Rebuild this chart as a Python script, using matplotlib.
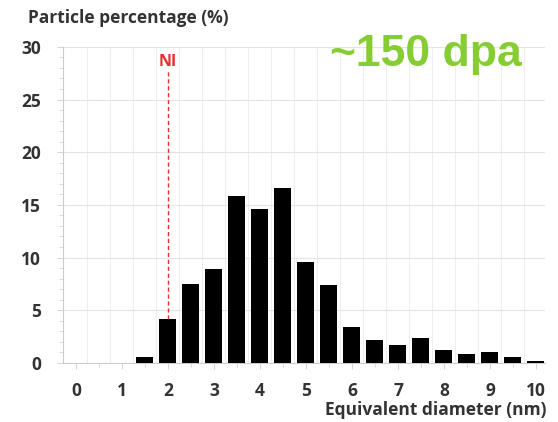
import matplotlib
matplotlib.use('Agg')
import matplotlib.pyplot as plt
import numpy as np

# equivalent diameter bins (nm) and particle percentage (%)
diameters = [1.5, 2.0, 2.5, 3.0, 3.5, 4.0, 4.5, 5.0, 5.5, 6.0,
             6.5, 7.0, 7.5, 8.0, 8.5, 9.0, 9.5, 10.0]
percent = [0.6, 4.2, 7.5, 8.9, 15.8, 14.6, 16.6, 9.6, 7.4, 3.4,
           2.2, 1.7, 2.4, 1.2, 0.8, 1.0, 0.6, 0.2]
x_ticks = list(range(0, 11))
y_ticks = [0, 5, 10, 15, 20, 25, 30]
ni_pos = 2.0

plt.rcParams['font.family'] = ['Open Sans', 'DejaVu Sans']

fig = plt.figure(figsize=(5.58, 4.22), dpi=100)
ax = fig.add_axes([0.113, 0.140, 0.864, 0.749])

ax.bar(diameters, percent, width=0.37, color='black', zorder=3)

ax.set_xlim(-0.28, 10.2)
ax.set_ylim(0, 30)
ax.set_xticks(x_ticks)
ax.set_yticks(y_ticks)
ax.set_xticks(np.arange(0.5, 10.5, 1.0), minor=True)
ax.set_yticks(range(0, 31), minor=True)
ax.tick_params(axis='both', which='major', labelsize=12.5, length=4, width=0.6)
ax.tick_params(axis='both', which='minor', length=3, width=0.5, colors='#cccccc')
ax.tick_params(axis='x', which='major', colors='#cccccc', labelcolor='#333333', pad=10)
ax.tick_params(axis='y', which='major', colors='#cccccc', labelcolor='#333333', pad=12)
for lab in ax.get_xticklabels() + ax.get_yticklabels():
    lab.set_fontweight('bold')

# grid
for g in np.arange(0.25, 10.3, 0.5):
    ax.axvline(g, color='#eeeeee', lw=0.8, zorder=0)
ax.grid(axis='y', color='#e4e4e4', lw=0.8, zorder=0)

for s in ['top', 'right']:
    ax.spines[s].set_visible(False)
ax.spines['left'].set_color('#cccccc')
ax.spines['bottom'].set_color('#cccccc')

# NI marker
ax.plot([ni_pos, ni_pos], [percent[1], 27.8], color='#e03030', ls=(0, (3, 2)),
        lw=1.0, zorder=4)
ax.text(ni_pos, 28.6, 'NI', color='#e03030', fontsize=11.5, fontweight='bold',
        ha='center', va='center')

fig.text(0.05, 0.957, 'Particle percentage (%)', fontsize=12.5, fontweight='bold',
         color='#333333', ha='left', va='center')
fig.text(0.98, 0.028, 'Equivalent diameter (nm)', fontsize=12.5, fontweight='bold',
         color='#333333', ha='right', va='center')
fig.text(0.764, 0.872, '~150 dpa', fontsize=32, fontweight='bold',
         color='#86cc33', family='Liberation Sans', ha='center', va='center')

fig.savefig('out.png', dpi=100, facecolor='white')
